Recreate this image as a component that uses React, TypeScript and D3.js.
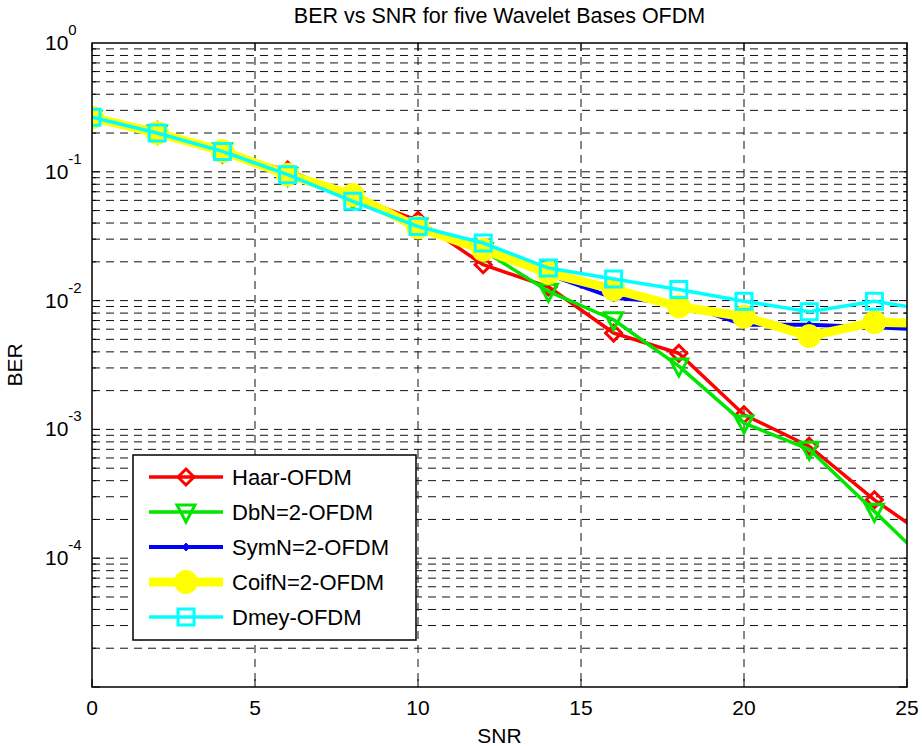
import React, { useEffect, useRef } from 'react';
import * as d3 from 'd3';

// SNR points (last one sits past the axis limit and gets clipped)
const snr = [0, 2, 4, 6, 8, 10, 12, 14, 16, 18, 20, 22, 24, 26];
const haar = [0.27, 0.21, 0.137, 0.103, 0.064, 0.042, 0.019, 0.0128, 0.0056, 0.0039, 0.0013, 0.00074, 0.000284, 0.000126];
const dbn2 = [0.26, 0.2, 0.146, 0.094, 0.062, 0.038, 0.0245, 0.0118, 0.0071, 0.0031, 0.00112, 0.0007, 0.000231, 0.000075];
const symn2 = [0.265, 0.2, 0.143, 0.093, 0.063, 0.037, 0.024, 0.016, 0.0105, 0.0096, 0.0065, 0.0065, 0.0062, 0.0059];
const coifn2 = [0.265, 0.2, 0.145, 0.095, 0.066, 0.037, 0.0248, 0.0164, 0.0122, 0.009, 0.0075, 0.0053, 0.0068, 0.0066];
const dmey = [0.265, 0.2, 0.144, 0.095, 0.059, 0.0376, 0.028, 0.0179, 0.0147, 0.0122, 0.0099, 0.0082, 0.0099, 0.0082];

const seriesNames = ['Haar-OFDM', 'DbN=2-OFDM', 'SymN=2-OFDM', 'CoifN=2-OFDM', 'Dmey-OFDM'];
const xTicks = [0, 5, 10, 15, 20, 25];
const yDecades = [-5, -4, -3, -2, -1, 0];
const yTickLabels = ['10', '10', '10', '10', '10'];

const FONT = 'Liberation Sans, Arial, Helvetica, sans-serif';

const App = () => {
  const ref = useRef<SVGSVGElement>(null);

  useEffect(() => {
    const width = 922;
    const height = 746;
    const margin = { top: 43, right: 15, bottom: 59, left: 92 };

    const svg = d3.select(ref.current);
    svg.selectAll('*').remove();
    svg.attr('width', width).attr('height', height);

    const x = d3.scaleLinear().domain([0, 25]).range([margin.left, width - margin.right]);
    const y = d3.scaleLog().domain([1e-5, 1]).range([height - margin.bottom, margin.top]);

    const x0 = x(0), x1 = x(25), yTop = y(1), yBot = y(1e-5);

    svg.append('rect').attr('width', width).attr('height', height).attr('fill', '#fff');

    // grid
    const grid = svg.append('g').attr('stroke', '#111').attr('stroke-width', 1).attr('stroke-dasharray', '8,6');
    xTicks.slice(1, -1).forEach(t => {
      grid.append('line').attr('x1', x(t)).attr('x2', x(t)).attr('y1', yTop).attr('y2', yBot);
    });
    const yGrid: number[] = [];
    yDecades.slice(0, -1).forEach(d => {
      for (let m = 1; m <= 9; m++) yGrid.push(m * Math.pow(10, d));
    });
    yGrid.forEach(v => {
      if (v <= 1e-5) return;
      grid.append('line').attr('x1', x0).attr('x2', x1).attr('y1', y(v)).attr('y2', y(v));
    });

    // ticks
    const ticks = svg.append('g').attr('stroke', '#000').attr('stroke-width', 1);
    xTicks.forEach(t => {
      ticks.append('line').attr('x1', x(t)).attr('x2', x(t)).attr('y1', yBot).attr('y2', yBot - 8);
      ticks.append('line').attr('x1', x(t)).attr('x2', x(t)).attr('y1', yTop).attr('y2', yTop + 8);
    });
    yGrid.forEach(v => {
      const len = Math.abs(Math.log10(v) - Math.round(Math.log10(v))) < 1e-9 ? 8 : 4;
      ticks.append('line').attr('x1', x0).attr('x2', x0 + len).attr('y1', y(v)).attr('y2', y(v));
      ticks.append('line').attr('x1', x1).attr('x2', x1 - len).attr('y1', y(v)).attr('y2', y(v));
    });

    // data lines
    svg.append('clipPath').attr('id', 'plotclip').append('rect')
      .attr('x', x0).attr('y', yTop).attr('width', x1 - x0).attr('height', yBot - yTop);
    const plot = svg.append('g').attr('clip-path', 'url(#plotclip)');

    const allSeries = [haar, dbn2, symn2, coifn2, dmey];
    const colors = ['#ff0000', '#00e600', '#0000ff', '#ffff00', '#00ffff'];
    const lineWidths = [3.5, 3.5, 4, 9, 3.5];
    const markerPaths = [
      'M0,-8L8,0L0,8L-8,0Z',
      'M-9,-7L9,-7L0,10Z',
      'M0,-4L3.5,0L0,4L-3.5,0Z',
      d3.symbol().type(d3.symbolCircle).size(Math.PI * 11.5 * 11.5)() as string,
      'M-8,-8L8,-8L8,8L-8,8Z'
    ];
    const filled = [false, false, true, true, false];

    const line = d3.line<number>().x((_, i) => x(snr[i])).y(d => y(d));

    const drawMarker = (g: any, k: number, cx: number, cy: number) => {
      g.append('path')
        .attr('d', markerPaths[k])
        .attr('transform', `translate(${cx},${cy})`)
        .attr('fill', filled[k] ? colors[k] : 'none')
        .attr('stroke', colors[k])
        .attr('stroke-width', filled[k] ? 1 : 3);
    };

    allSeries.forEach((vals, k) => {
      const g = plot.append('g');
      g.append('path')
        .datum(vals)
        .attr('d', line)
        .attr('fill', 'none')
        .attr('stroke', colors[k])
        .attr('stroke-width', lineWidths[k])
        .attr('stroke-linejoin', 'round');
      vals.forEach((v, i) => drawMarker(g, k, x(snr[i]), y(v)));
    });

    // axes box
    svg.append('rect').attr('x', x0).attr('y', yTop).attr('width', x1 - x0).attr('height', yBot - yTop)
      .attr('fill', 'none').attr('stroke', '#000').attr('stroke-width', 1.5);

    // tick labels
    xTicks.forEach(t => {
      svg.append('text').attr('x', x(t)).attr('y', 715).attr('text-anchor', 'middle')
        .attr('font-family', FONT).attr('font-size', 21).text(t);
    });
    yTickLabels.forEach((lab, i) => {
      const d = -i;
      const t = svg.append('text').attr('x', 45).attr('y', y(Math.pow(10, d)) + 7)
        .attr('font-family', FONT).attr('font-size', 21);
      t.append('tspan').text(lab);
      t.append('tspan').attr('dy', -15).attr('font-size', 15).text(String(d));
    });

    // titles
    svg.append('text').attr('x', (x0 + x1) / 2).attr('y', 23).attr('text-anchor', 'middle')
      .attr('font-family', FONT).attr('font-size', 21.5).text('BER vs SNR for five Wavelet Bases OFDM');
    svg.append('text').attr('x', (x0 + x1) / 2).attr('y', 743).attr('text-anchor', 'middle')
      .attr('font-family', FONT).attr('font-size', 21).text('SNR');
    svg.append('text').attr('transform', `translate(22,${(yTop + yBot) / 2}) rotate(-90)`)
      .attr('text-anchor', 'middle').attr('font-family', FONT).attr('font-size', 21).text('BER');

    // legend
    const leg = svg.append('g');
    leg.append('rect').attr('x', 133).attr('y', 455).attr('width', 283).attr('height', 185)
      .attr('fill', '#fff').attr('stroke', '#000').attr('stroke-width', 1.5);
    seriesNames.forEach((name, k) => {
      const ly = 477 + k * 35;
      leg.append('line').attr('x1', 149).attr('x2', 223).attr('y1', ly).attr('y2', ly)
        .attr('stroke', colors[k]).attr('stroke-width', lineWidths[k]);
      drawMarker(leg, k, 186, ly);
      leg.append('text').attr('x', 232).attr('y', ly + 8).attr('font-family', FONT).attr('font-size', 22).text(name);
    });
  }, []);

  return (
    <div>
      <svg ref={ref} style={{ position: 'absolute', left: 0, top: 0 }}></svg>
    </div>
  );
};

export default App;
